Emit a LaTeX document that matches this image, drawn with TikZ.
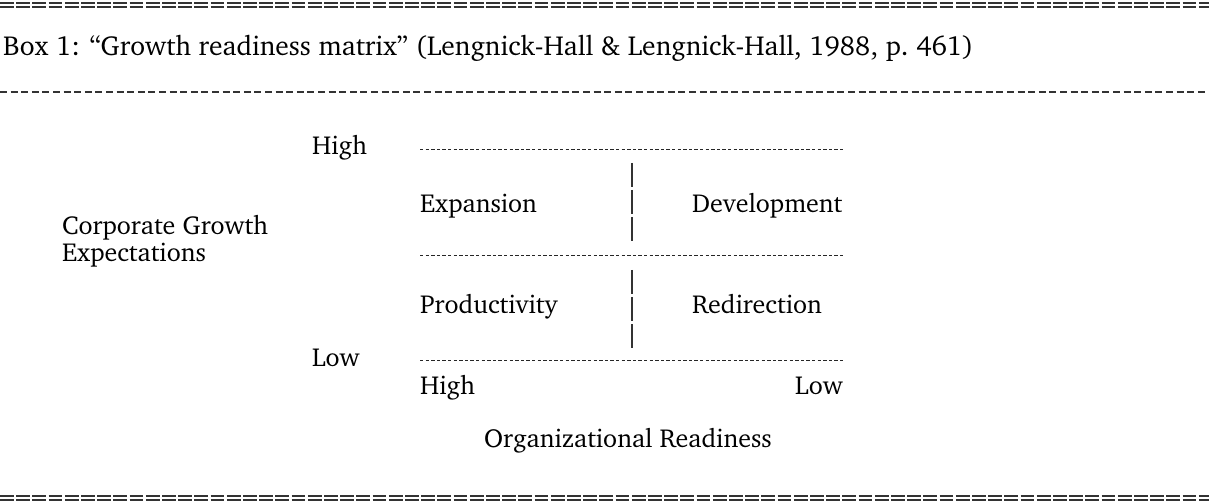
\documentclass[tikz,border=0pt]{standalone}
\usepackage[T1]{fontenc}
\usepackage{charter}

\begin{document}
\begin{tikzpicture}[x=1pt, y=-1pt, every node/.style={inner sep=0pt, font=\fontsize{26}{27}\selectfont}]
    % 样式
    \tikzstyle{txt} = [anchor=base west]
    \tikzstyle{dblrule} = [line width=1.3pt, draw=black!80, dash pattern=on 13.8pt off 2.4pt]
    \tikzstyle{seprule} = [line width=1.3pt, draw=black!80, dash pattern=on 7pt off 3.6pt]
    \tikzstyle{gridrule} = [line width=0.9pt, draw=black!85, dash pattern=on 3.4pt off 2.2pt]
    \tikzstyle{barrule} = [line width=1.2pt, draw=black!80, dash pattern=on 24pt off 3pt]

    \useasboundingbox (0,0) rectangle (1209,502);

    % 分隔线
    \draw[dblrule] (0,3) -- (1209,3);
    \draw[dblrule] (0,7) -- (1209,7);
    \draw[seprule] (0,92) -- (1206,92);
    \draw[dblrule] (0,496) -- (1209,496);
    \draw[dblrule] (0,500) -- (1209,500);

    % 标题
    \node[txt, font=\fontsize{27.5}{29}\selectfont] (title) at (3,56) {Box 1: ``Growth readiness matrix'' (Lengnick-Hall \& Lengnick-Hall, 1988, p.~461)};

    % 纵轴
    \node[txt] (yhigh) at (312,155) {High};
    \node[txt] (ylow) at (312,366) {Low};
    \node[txt] (ylab) at (62,235) {Corporate Growth};
    \node[txt] (ylab2) at (62,262) {Expectations};

    % 矩阵
    \draw[gridrule] (420,149) -- (843,149);
    \draw[gridrule] (420,255) -- (843,255);
    \draw[gridrule] (420,360) -- (843,360);
    \draw[barrule] (632,163) -- (632,241);
    \draw[barrule] (632,270) -- (632,348);

    \node[txt] (exp) at (420,213) {Expansion};
    \node[txt] (dev) at (692,213) {Development};
    \node[txt] (prod) at (420,314) {Productivity};
    \node[txt] (redir) at (692,314) {Redirection};

    % 横轴
    \node[txt] (xhigh) at (420,394) {High};
    \node[anchor=base east] (xlow) at (843,394) {Low};
    \node[anchor=base] (xlab) at (628,447) {Organizational Readiness};
  \end{tikzpicture}
\end{document}
